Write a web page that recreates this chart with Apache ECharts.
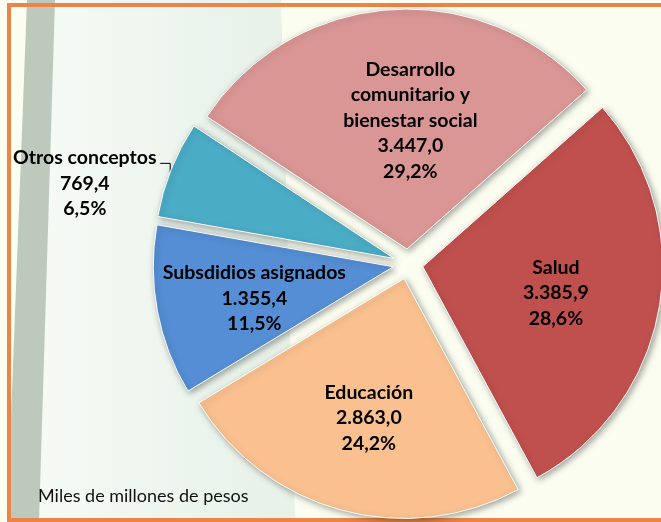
<!DOCTYPE html>
<html>
<head>
<meta charset="utf-8">
<script src="https://cdn.jsdelivr.net/npm/echarts@6/dist/echarts.min.js"></script>
<style>
html,body{margin:0;padding:0;background:#FAFDF0;}
#chart{width:661px;height:522px;}
</style>
</head>
<body>
<div id="chart"></div>
<script>
// ---- data ----
const categories = ['Desarrollo\ncomunitario y\nbienestar social', 'Salud', 'Educación', 'Subsdidios asignados', 'Otros conceptos'];
const values = [3447.0, 3385.9, 2863.0, 1355.4, 769.4];
const unitNote = 'Miles de millones de pesos';

// ---- style ----
const colors = ['#D99694', '#C0504D', '#FAC090', '#558ED5', '#4BACC6'];
const labelShift = [[12, -6], [12, 5], [-3, 21], [-18, 9], [-72, 17]];
const FONT = 'Lato, "Open Sans", sans-serif';

function fmt(v) {
  const s = v.toFixed(1).split('.');
  return s[0].replace(/\B(?=(\d{3})+(?!\d))/g, '.') + ',' + s[1];
}

const chart = echarts.init(document.getElementById('chart'), null, {renderer: 'canvas'});

const seriesData = categories.map((name, i) => {
  const item = {
    name: name,
    value: values[i],
    selected: true,
    itemStyle: {color: colors[i]}
  };
  if (i === 4) {
    item.label = {position: 'outside', distanceToLabelLine: 3};
    item.labelLine = {show: true, length: 8, length2: 4, lineStyle: {color: '#000', width: 1}};
  }
  return item;
});

chart.setOption({
  backgroundColor: '#FAFDF0',
  animation: false,
  graphic: [
    {
      type: 'polygon', z: -10,
      shape: {points: [[55, 0], [281, 0], [295, 522], [39, 522]]},
      style: {
        fill: new echarts.graphic.LinearGradient(0, 0, 1, 0, [
          {offset: 0, color: '#F5FAF5'},
          {offset: 1, color: '#E6F1E7'}
        ])
      }
    },
    {
      type: 'polygon', z: -9,
      shape: {points: [[27, 0], [55, 0], [39, 522], [7, 522]]},
      style: {fill: '#BCC9BC'}
    },
    {
      type: 'rect', z: -8,
      shape: {x: 9, y: 5, width: 700, height: 515},
      style: {fill: null, stroke: '#EB8446', lineWidth: 4}
    },
    {
      type: 'text', z: 10, left: 38, top: 487,
      style: {text: unitNote, font: '18px ' + FONT, fill: '#111'}
    }
  ],
  series: [{
    type: 'pie',
    center: [408, 264],
    radius: 240,
    startAngle: 146.5,
    clockwise: true,
    avoidLabelOverlap: false,
    selectedMode: 'multiple',
    selectedOffset: 15,
    emphasis: {disabled: true},
    itemStyle: {
      borderColor: '#fff', borderWidth: 1,
      shadowBlur: 6, shadowColor: 'rgba(0,0,0,0.35)', shadowOffsetX: 2, shadowOffsetY: 2
    },
    select: {itemStyle: {borderColor: '#fff', borderWidth: 1}},
    label: {
      show: true,
      position: 'inside',
      color: '#000',
      fontFamily: FONT,
      fontWeight: 'bold',
      fontSize: 19.5,
      lineHeight: 25.5,
      align: 'center',
      formatter: p => p.name + '\n' + fmt(p.value) + '\n' + p.percent.toFixed(1).replace('.', ',') + '%'
    },
    labelLine: {show: false},
    labelLayout: function (p) {
      const s = labelShift[p.dataIndex];
      if (p.dataIndex === 4) {
        const pts = p.labelLinePoints;
        const a = pts[0];
        const line = [[a[0] - 1, a[1] + 3], [a[0] - 1, a[1] - 6], [a[0] - 11, a[1] - 6]];
        return {align: 'center', dx: s[0], dy: s[1], labelLinePoints: line};
      }
      return {dx: s[0], dy: s[1]};
    },
    data: seriesData
  }]
});
</script>
</body>
</html>
